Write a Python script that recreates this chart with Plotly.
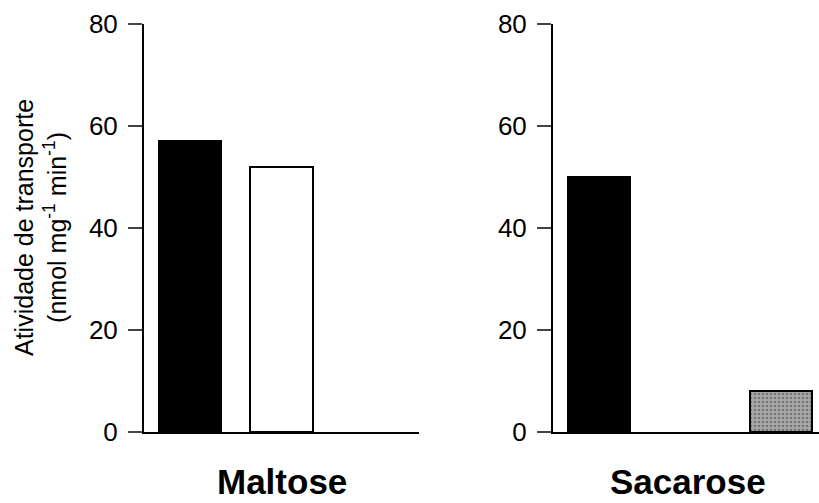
import plotly.graph_objects as go

# Data (None = no bar drawn)
series = ["Controle", "Tratamento A", "Tratamento B"]
maltose_values = [57, 52, None]
sacarose_values = [50, None, 8]
panel_labels = ["Maltose", "Sacarose"]
y_ticks = [0, 20, 40, 60, 80]

W, H = 819, 503
def px(x): return x / W
def py(y): return 1 - y / H

colors = ["#000000", "#ffffff", "#a8a8a8"]
patterns = ["", "", "."]

fig = go.Figure()
for vals, xa, ya in [(maltose_values, "x", "y"), (sacarose_values, "x2", "y2")]:
    fig.add_trace(go.Bar(
        x=[0, 1, 2], y=vals, width=0.68, xaxis=xa, yaxis=ya,
        marker=dict(color=colors, line=dict(color="black", width=2),
                    pattern=dict(shape=patterns, fgcolor="#555555", bgcolor="#b4b4b4", size=4, solidity=0.35)),
        showlegend=False, hoverinfo="x+y"))

ydom = [py(432), py(24)]
axis_y = dict(range=[0, 80], tickvals=y_ticks, ticks="outside", ticklen=14, tickwidth=2,
              showline=True, linewidth=2, linecolor="black", showgrid=False, zeroline=False,
              tickfont=dict(family="Liberation Sans, Arial", size=26, color="black"),
              ticklabelstandoff=5, domain=ydom, automargin=False)
axis_x = dict(showline=True, linewidth=2, linecolor="black", showgrid=False, zeroline=False,
              showticklabels=False, ticks="", automargin=False)

fig.update_layout(
    width=W, height=H, margin=dict(l=0, r=0, t=0, b=0, pad=0, autoexpand=False),
    paper_bgcolor="white", plot_bgcolor="white",
    xaxis=dict(axis_x, domain=[px(144), px(419)], range=[-0.5, 2.5]),
    xaxis2=dict(axis_x, domain=[px(553), 1.0], range=[-0.5, 2.42], anchor="y2"),
    yaxis=dict(axis_y, anchor="x"),
    yaxis2=dict(axis_y, anchor="x2"),
    bargap=0,
)

# Panel labels
for lab, cx in zip(panel_labels, [px(281.5), px(688)]):
    fig.add_annotation(text="<b>%s</b>" % lab, x=cx, y=py(481), xref="paper", yref="paper",
                       xanchor="center", yanchor="middle", showarrow=False,
                       font=dict(family="Liberation Sans, Arial", size=35, color="black"))

fig.add_annotation(text="Atividade de transporte<br>(nmol mg<sup>-1</sup> min<sup>-1</sup>)",
                   x=px(40), y=py(228), xref="paper", yref="paper", textangle=-90,
                   xanchor="center", yanchor="middle", showarrow=False,
                   font=dict(family="Liberation Sans, Arial", size=25, color="black"))

fig.write_html("out.html")
